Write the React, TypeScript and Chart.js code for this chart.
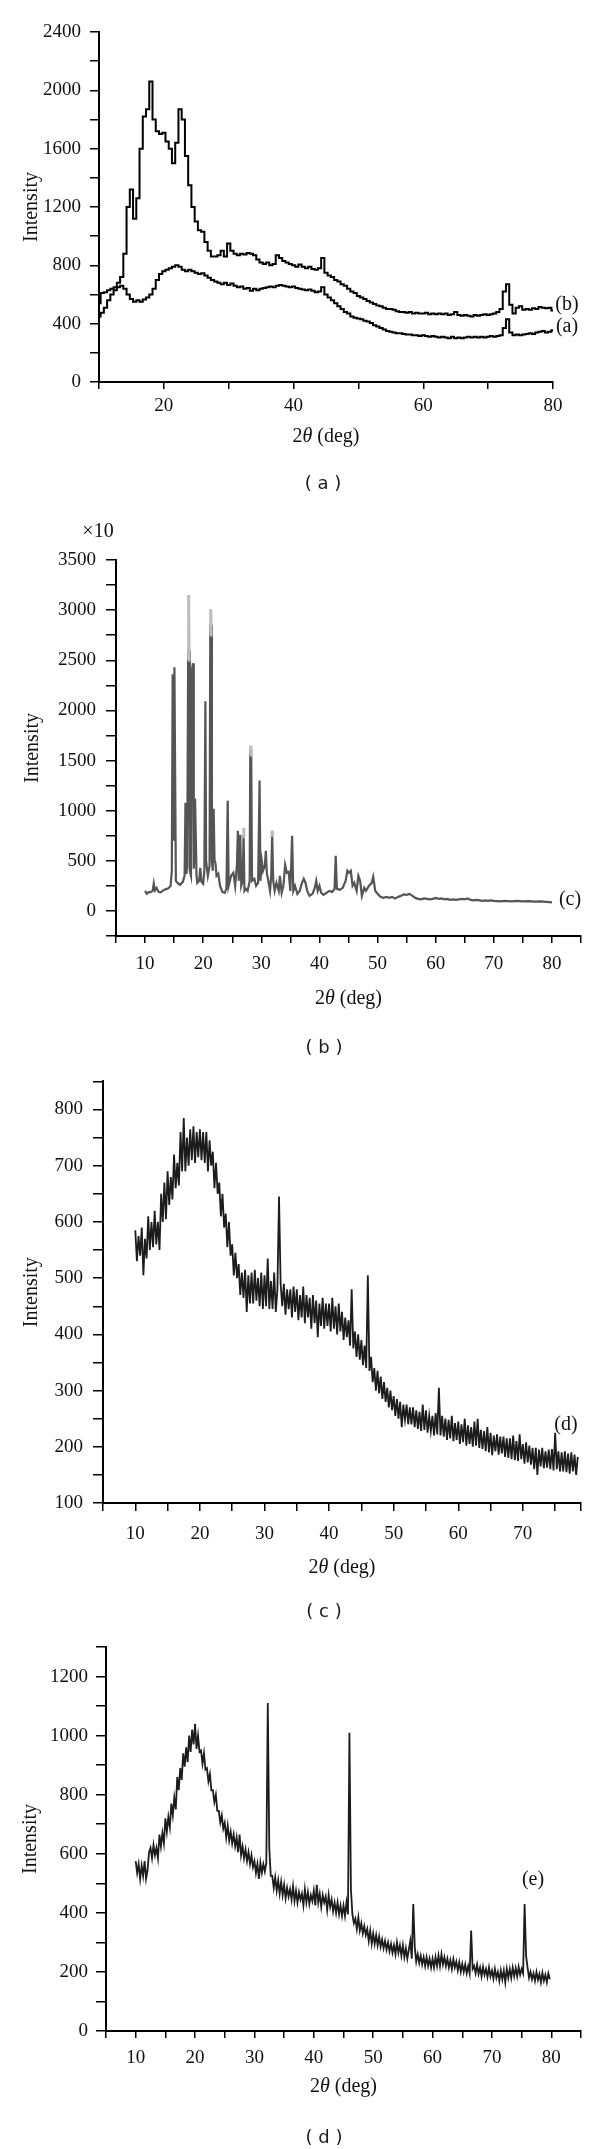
import React, { useEffect, useRef } from 'react';
import { Chart, registerables } from 'chart.js';

Chart.register(...registerables);

type Pair = [number, number | null];

// ---------- Panel (a): two XRD traces, 2θ from 10° in 0.5° steps ----------
const aStart = 10;
const aStep = 0.5;
const aTraceA = [
  450, 475, 510, 560, 600, 630, 650, 660, 640, 600,
  570, 550, 560, 550, 565, 580, 600, 640, 700, 740,
  760, 770, 780, 790, 800, 790, 770, 760, 770, 760,
  750, 740, 745, 730, 715, 700, 690, 680, 670, 680,
  665, 675, 660, 650, 655, 640, 645, 625, 640, 630,
  640, 645, 650, 655, 650, 660, 665, 660, 655, 650,
  655, 645, 640, 635, 630, 635, 625, 615, 620, 650,
  600, 580, 560, 540, 520, 500, 480, 470, 450, 440,
  435, 430, 420, 415, 405, 390, 380, 370, 360, 350,
  345, 340, 335, 335, 330, 325, 325, 320, 320, 315,
  320, 315, 310, 315, 310, 305, 310, 305, 300, 310,
  300, 305, 300, 305, 310, 305, 310, 305, 310, 305,
  310, 315, 310, 315, 320, 370, 430, 340, 320, 325,
  320, 325, 330, 335, 330, 340, 345, 350, 340, 345,
  355,
];
const aTraceB = [
  540, 610, 615, 630, 640, 650, 680, 720, 880, 1200,
  1320, 1120, 1260, 1600, 1820, 1870, 2060, 1800, 1720, 1700,
  1710, 1650, 1600, 1500, 1640, 1870, 1800, 1550, 1350, 1200,
  1100, 1040, 1030, 960, 900, 860, 860, 870, 900, 860,
  950, 900, 880, 870, 880, 875, 885, 880, 870, 840,
  820, 810, 820, 800, 810, 870, 850, 830, 820, 810,
  800, 790, 805, 790, 780, 790, 775, 770, 780, 850,
  750, 730, 720, 700, 690, 670, 660, 640, 620, 610,
  590, 580, 570, 555, 545, 535, 525, 520, 510, 500,
  500, 495, 485, 480, 480, 475, 480, 470, 475, 470,
  470, 475, 465, 470, 465, 470, 465, 470, 460, 465,
  480, 460, 455, 460, 455, 450, 460, 455, 460, 465,
  460, 465, 470, 480, 500, 620, 670, 530, 470, 510,
  520, 495, 500, 495, 505, 500, 515, 510, 505, 510,
  490,
];

// ---------- Panel (b): crystalline pattern (c), intensity ×10 ----------
const bTrace: Pair[] = [
  [10, 200], [10.3, 170], [10.6, 185], [11, 190], [11.3, 200], [11.5, 275], [11.7, 205], [12, 230],
  [12.3, 190], [12.7, 185], [13, 200], [13.5, 215], [14, 225], [14.4, 250], [14.6, 400],
  [14.75, 2350], [14.85, 2350], [14.95, 700], [15.05, 2430], [15.15, 2430], [15.3, 300],
  [15.6, 280], [16, 260], [16.5, 290], [16.8, 350], [16.95, 1080], [17.05, 380], [17.15, 980],
  [17.25, 420], [17.42, 2600], [17.56, 2600], [17.7, 400], [17.9, 350], [18.05, 2400],
  [18.25, 2470], [18.38, 420], [18.5, 600], [18.6, 1120], [18.72, 1120], [18.85, 350],
  [19.0, 280], [19.3, 300], [19.5, 430], [19.7, 290], [20.0, 270], [20.2, 400], [20.38, 2090],
  [20.5, 500], [20.8, 350], [21.1, 450], [21.22, 2850], [21.38, 2850], [21.5, 500], [21.65, 400],
  [21.8, 1020], [21.95, 500], [22.1, 480], [22.3, 350], [22.6, 370], [22.9, 250], [23.3, 190],
  [23.7, 180], [24.0, 220], [24.22, 1100], [24.38, 250], [24.8, 350], [25.2, 380], [25.5, 250],
  [25.8, 450], [25.97, 800], [26.12, 300], [26.38, 760], [26.55, 250], [26.8, 300], [26.95, 760],
  [27.1, 200], [27.35, 220], [27.65, 200], [28.0, 300], [28.1, 1600], [28.26, 1600], [28.4, 300],
  [28.8, 320], [29.1, 250], [29.45, 280], [29.7, 1300], [29.85, 300], [30.1, 490], [30.3, 400],
  [30.6, 450], [30.78, 600], [30.95, 380], [31.2, 300], [31.5, 200], [31.7, 350], [31.87, 760],
  [32.05, 300], [32.3, 200], [32.6, 280], [33.0, 200], [33.2, 350], [33.5, 180], [33.8, 250],
  [34.1, 460], [34.4, 380], [34.7, 390], [35.0, 200], [35.3, 750], [35.5, 200], [35.8, 250],
  [36.2, 170], [36.6, 200], [37.0, 280], [37.3, 320], [37.6, 280], [37.9, 200], [38.3, 150],
  [38.8, 170], [39.2, 230], [39.45, 300], [39.7, 200], [40.0, 250], [40.3, 180], [40.7, 160],
  [41.2, 180], [41.7, 200], [42.2, 190], [42.6, 220], [42.8, 550], [43.0, 220], [43.5, 210],
  [44.0, 230], [44.5, 300], [44.8, 400], [45.1, 380], [45.4, 400], [45.7, 250], [46.0, 280],
  [46.4, 200], [46.7, 350], [47.0, 300], [47.3, 150], [47.7, 230], [48.0, 200], [48.5, 250],
  [49.0, 280], [49.25, 340], [49.6, 200], [50.0, 170], [50.5, 140], [51, 130], [51.5, 140],
  [52, 130], [52.5, 140], [53, 125], [53.5, 140], [54, 150], [54.5, 165], [55, 160], [55.5, 170],
  [56, 150], [56.5, 130], [57, 120], [57.5, 115], [58, 125], [58.5, 120], [59, 115], [59.5, 120],
  [60, 130], [60.5, 120], [61, 125], [61.5, 115], [62, 120], [62.5, 110], [63, 115], [63.5, 110],
  [64, 115], [64.5, 120], [65, 115], [65.5, 125], [66, 110], [66.5, 105], [67, 110], [67.5, 105],
  [68, 100], [68.5, 105], [69, 100], [69.5, 105], [70, 100], [71, 95], [72, 100], [73, 95],
  [74, 100], [75, 95], [76, 98], [77, 92], [78, 95], [79, 90], [80, 85],
];
// lighter overlay reaching the full heights of some reflections
const bPeakTops: Pair[] = [
  [17.42, 2500], [17.5, 3150], [17.58, 2500], [17.7, null],
  [21.22, 2750], [21.3, 3010], [21.38, 2750], [21.5, null],
  [26.88, 740], [26.95, 830], [27.02, 740], [27.1, null],
  [28.12, 1550], [28.18, 1650], [28.24, 1550], [28.3, null],
  [31.8, 740], [31.87, 800], [31.94, 740], [32.0, null],
];

// ---------- Panel (c): trace (d), 2θ from 10° in 0.25° steps ----------
const cStart = 10;
const cStep = 0.25;
const cTrace = [
  585, 530, 575, 540, // 10
  590, 505, 570, 535, // 11
  610, 550, 600, 555, // 12
  620, 560, 600, 550, // 13
  650, 600, 670, 605, // 14
  690, 630, 680, 640, // 15
  720, 660, 705, 665, // 16
  760, 690, 785, 690, // 17
  750, 700, 765, 710, // 18
  770, 705, 760, 715, // 19
  765, 710, 760, 705, // 20
  760, 690, 745, 700, // 21
  725, 660, 705, 650, // 22
  670, 610, 650, 590, // 23
  615, 555, 600, 540, // 24
  560, 505, 545, 500, // 25
  525, 470, 510, 465, // 26
  515, 440, 505, 455, // 27
  510, 455, 515, 460, // 28
  500, 450, 510, 445, // 29
  505, 450, 535, 445, // 30
  495, 445, 510, 440, // 31
  480, 645, 490, 450, // 32
  490, 435, 480, 445, // 33
  480, 430, 485, 440, // 34
  480, 425, 470, 430, // 35
  485, 420, 470, 430, // 36
  465, 410, 470, 420, // 37
  460, 395, 455, 415, // 38
  465, 410, 455, 415, // 39
  455, 405, 465, 410, // 40
  450, 400, 455, 405, // 41
  440, 390, 430, 395, // 42
  425, 380, 480, 375, // 43
  405, 360, 400, 355, // 44
  390, 345, 380, 340, // 45
  505, 335, 360, 315, // 46
  340, 300, 335, 295, // 47
  325, 285, 315, 280, // 48
  305, 270, 300, 265, // 49
  290, 255, 285, 250, // 50
  280, 235, 275, 248, // 51
  275, 240, 270, 240, // 52
  270, 235, 265, 232, // 53
  262, 228, 275, 230, // 54
  265, 225, 255, 228, // 55
  255, 220, 260, 222, // 56
  305, 220, 255, 218, // 57
  250, 212, 248, 215, // 58
  255, 210, 242, 212, // 59
  245, 205, 240, 208, // 60
  250, 202, 238, 205, // 61
  235, 200, 245, 202, // 62
  250, 198, 230, 196, // 63
  228, 192, 235, 190, // 64
  225, 185, 220, 192, // 65
  222, 186, 218, 188, // 66
  218, 182, 215, 180, // 67
  215, 178, 220, 176, // 68
  210, 175, 222, 178, // 69
  205, 170, 208, 172, // 70
  202, 168, 198, 160, // 71
  198, 150, 195, 165, // 72
  198, 162, 192, 163, // 73
  195, 160, 196, 158, // 74
  225, 160, 192, 156, // 75
  190, 156, 192, 155, // 76
  188, 152, 190, 156, // 77
  186, 150, 182,      // 78
];

// ---------- Panel (d): trace (e), 2θ from 10° in 0.25° steps ----------
const dStart = 10;
const dStep = 0.25;
const dTrace = [
  575, 535, 565, 515, // 10
  560, 525, 575, 515, // 11
  545, 605, 620, 585, // 12
  630, 595, 620, 585, // 13
  665, 625, 670, 635, // 14
  720, 675, 725, 690, // 15
  770, 730, 790, 750, // 16
  860, 815, 890, 850, // 17
  940, 895, 960, 910, // 18
  1000, 945, 1020, 970, // 19
  1040, 955, 1000, 945, // 20
  950, 905, 940, 885, // 21
  890, 845, 870, 815, // 22
  815, 775, 800, 745, // 23
  745, 705, 730, 685, // 24
  705, 655, 695, 645, // 25
  675, 635, 665, 625, // 26
  655, 605, 665, 595, // 27
  625, 585, 615, 575, // 28
  605, 565, 595, 555, // 29
  575, 535, 565, 515, // 30
  570, 535, 565, 540, // 31
  570, 1110, 620, 525, // 32
  525, 485, 520, 475, // 33
  510, 465, 505, 460, // 34
  495, 450, 485, 455, // 35
  480, 445, 490, 440, // 36
  475, 435, 470, 445, // 37
  465, 425, 480, 435, // 38
  470, 430, 460, 440, // 39
  475, 425, 495, 435, // 40
  465, 420, 460, 435, // 41
  455, 410, 460, 420, // 42
  445, 405, 435, 400, // 43
  435, 395, 425, 390, // 44
  425, 390, 435, 395, // 45
  1010, 480, 395, 365, // 46
  380, 345, 385, 340, // 47
  365, 330, 355, 325, // 48
  345, 305, 340, 295, // 49
  330, 295, 325, 290, // 50
  320, 285, 310, 280, // 51
  305, 275, 300, 270, // 52
  295, 265, 290, 260, // 53
  300, 265, 290, 255, // 54
  290, 250, 280, 245, // 55
  275, 305, 245, 430, // 56
  285, 235, 260, 230, // 57
  255, 225, 250, 220, // 58
  250, 220, 245, 215, // 59
  245, 215, 250, 220, // 60
  255, 220, 260, 225, // 61
  250, 220, 245, 215, // 62
  240, 210, 243, 215, // 63
  235, 205, 233, 200, // 64
  227, 200, 225, 195, // 65
  220, 195, 340, 210, // 66
  220, 195, 225, 193, // 67
  215, 185, 217, 190, // 68
  210, 183, 215, 185, // 69
  205, 177, 210, 180, // 70
  200, 170, 205, 175, // 71
  205, 165, 210, 180, // 72
  210, 180, 215, 185, // 73
  213, 185, 217, 190, // 74
  210, 195, 430, 255, // 75
  215, 180, 200, 175, // 76
  195, 170, 200, 173, // 77
  193, 165, 197, 170, // 78
  190, 165, 195, 175, // 79
];

const SERIF = '"Liberation Serif", "Times New Roman", serif';
const SANS = '"DejaVu Sans", Verdana, sans-serif';
const INK = '#111111';

const onGrid = (start: number, step: number, ys: number[]) =>
  ys.map((y, i) => ({ x: start + i * step, y }));
const fromPairs = (ps: Pair[]) => ps.map(([x, y]) => ({ x, y }));

interface TextItem { text: string; x: number; y: number; }
interface PanelSpec {
  top: number; height: number;
  chartTop: number; chartBottom: number; chartLeft: number; chartRight: number;
  xMin: number; xMax: number; xStep: number; xEvery: number;
  yMin: number; yMax: number; yStep: number; yEvery: number;
  xTickLen: number; xPad: number; yTickLen: number; yPad: number;
  yTitleX: number; xTitleY: number;
  caption: string; captionX: number; captionY: number;
  labels: TextItem[];
  datasets: any[];
}

function drawTexts(chart: any, p: PanelSpec) {
  const ctx: CanvasRenderingContext2D = chart.ctx;
  const { left, right, top, bottom } = chart.chartArea;
  ctx.save();
  ctx.fillStyle = INK;
  ctx.textBaseline = 'middle';
  // y title
  ctx.save();
  ctx.font = `20px ${SERIF}`;
  ctx.translate(p.yTitleX, (top + bottom) / 2);
  ctx.rotate(-Math.PI / 2);
  ctx.textAlign = 'center';
  ctx.fillText('Intensity', 0, 0);
  ctx.restore();
  // x title with italic theta
  const parts: [string, string][] = [
    ['2', `20px ${SERIF}`],
    ['θ', `italic 20px ${SERIF}`],
    [' (deg)', `20px ${SERIF}`],
  ];
  let total = 0;
  for (const [t, f] of parts) { ctx.font = f; total += ctx.measureText(t).width; }
  let cx = (left + right) / 2 - total / 2;
  ctx.textAlign = 'left';
  for (const [t, f] of parts) { ctx.font = f; ctx.fillText(t, cx, p.xTitleY); cx += ctx.measureText(t).width; }
  // series labels
  ctx.textAlign = 'center';
  ctx.font = `20px ${SERIF}`;
  for (const l of p.labels) ctx.fillText(l.text, l.x, l.y);
  // caption
  ctx.font = `18px ${SANS}`;
  ctx.fillStyle = '#1a1a1a';
  ctx.fillText(p.caption, p.captionX, p.captionY);
  ctx.restore();
}

function makeConfig(p: PanelSpec): any {
  const axisCommon = {
    type: 'linear',
    bounds: 'data',
    border: { display: true, color: '#000', width: 2 },
  };
  return {
    type: 'line',
    data: { datasets: p.datasets },
    options: {
      animation: false,
      responsive: false,
      devicePixelRatio: 1,
      layout: { padding: { top: p.chartTop, right: 600 - p.chartRight, bottom: 0, left: 0 } },
      plugins: { legend: { display: false }, tooltip: { enabled: false } },
      elements: { point: { radius: 0 }, line: { tension: 0 } },
      scales: {
        x: {
          ...axisCommon,
          min: p.xMin, max: p.xMax,
          afterFit: (s: any) => { s.height = p.height - p.chartBottom; },
          grid: { display: true, drawOnChartArea: false, drawTicks: true, tickLength: p.xTickLen, color: '#000', lineWidth: 1.5 },
          ticks: {
            stepSize: p.xStep, autoSkip: false, maxRotation: 0, minRotation: 0, includeBounds: false,
            padding: p.xPad, color: INK, font: { family: SERIF, size: 19 },
            callback: (v: number) => (Math.abs(v % p.xEvery) < 1e-6 ? String(v) : ''),
          },
        },
        y: {
          ...axisCommon,
          min: p.yMin, max: p.yMax,
          afterFit: (s: any) => { s.width = p.chartLeft; },
          grid: { display: true, drawOnChartArea: false, drawTicks: true, tickLength: p.yTickLen, color: '#000', lineWidth: 1.5 },
          ticks: {
            stepSize: p.yStep, autoSkip: false, includeBounds: false,
            padding: p.yPad, color: INK, font: { family: SERIF, size: 19 },
            callback: (v: number) => (v >= 0 && Math.abs(v % p.yEvery) < 1e-6 ? String(v) : ''),
          },
        },
      },
    },
    plugins: [{ id: 'panelText', afterDraw: (chart: any) => drawTexts(chart, p) }],
  };
}

const lineDs = (data: any[], color: string, width: number, extra: any = {}) => ({
  data, borderColor: color, borderWidth: width, pointRadius: 0, fill: false, spanGaps: false, ...extra,
});

const panels: PanelSpec[] = [
  {
    top: 0, height: 500, chartTop: 32, chartBottom: 382, chartLeft: 99, chartRight: 553,
    xMin: 10, xMax: 80, xStep: 10, xEvery: 20, yMin: 0, yMax: 2400, yStep: 200, yEvery: 400,
    xTickLen: 7, xPad: 6, yTickLen: 9, yPad: 9, yTitleX: 31.5, xTitleY: 437,
    caption: '( a )', captionX: 323, captionY: 484,
    labels: [{ text: '(b)', x: 567, y: 305 }, { text: '(a)', x: 567, y: 327 }],
    datasets: [
      lineDs(onGrid(aStart, aStep, aTraceB), '#000', 2, { stepped: 'middle' }),
      lineDs(onGrid(aStart, aStep, aTraceA), '#000', 2, { stepped: 'middle' }),
    ],
  },
  {
    top: 500, height: 560, chartTop: 60, chartBottom: 436, chartLeft: 116, chartRight: 581,
    xMin: 5, xMax: 85, xStep: 5, xEvery: 10, yMin: -250, yMax: 3500, yStep: 250, yEvery: 500,
    xTickLen: 7, xPad: 10, yTickLen: 10, yPad: 10, yTitleX: 33, xTitleY: 499,
    caption: '( b )', captionX: 324, captionY: 548,
    labels: [{ text: '(c)', x: 570, y: 400 }, { text: '×10', x: 98, y: 32 }],
    datasets: [
      lineDs(fromPairs(bPeakTops), '#bdbdbd', 3),
      lineDs(fromPairs(bTrace), '#555555', 2.2),
    ],
  },
  {
    top: 1060, height: 570, chartTop: 20, chartBottom: 443, chartLeft: 103, chartRight: 581,
    xMin: 5, xMax: 79, xStep: 5, xEvery: 10, yMin: 100, yMax: 850, yStep: 50, yEvery: 100,
    xTickLen: 8, xPad: 12, yTickLen: 10, yPad: 10, yTitleX: 31.5, xTitleY: 508,
    caption: '( c )', captionX: 324, captionY: 552,
    labels: [{ text: '(d)', x: 566, y: 365 }],
    datasets: [lineDs(onGrid(cStart, cStep, cTrace), '#1c1c1c', 1.8)],
  },
  {
    top: 1620, height: 529, chartTop: 27, chartBottom: 411, chartLeft: 106, chartRight: 581,
    xMin: 5, xMax: 85, xStep: 5, xEvery: 10, yMin: 0, yMax: 1300, yStep: 100, yEvery: 200,
    xTickLen: 7, xPad: 9, yTickLen: 10, yPad: 8, yTitleX: 31, xTitleY: 467,
    caption: '( d )', captionX: 324, captionY: 518,
    labels: [{ text: '(e)', x: 533, y: 260 }],
    datasets: [lineDs(onGrid(dStart, dStep, dTrace), '#1c1c1c', 1.8)],
  },
];

function Panel({ spec }: { spec: PanelSpec }) {
  const ref = useRef<HTMLCanvasElement>(null);
  useEffect(() => {
    if (!ref.current) return;
    const chart = new Chart(ref.current, makeConfig(spec));
    return () => chart.destroy();
  }, [spec]);
  return (
    <canvas
      ref={ref}
      width={600}
      height={spec.height}
      style={{ position: 'absolute', left: 0, top: spec.top, width: 600, height: spec.height, display: 'block' }}
    />
  );
}

export default function App() {
  return (
    <div style={{ position: 'absolute', left: 0, top: 0, width: 600, height: 2149, background: '#fff' }}>
      {panels.map((p, i) => <Panel key={i} spec={p} />)}
    </div>
  );
}
